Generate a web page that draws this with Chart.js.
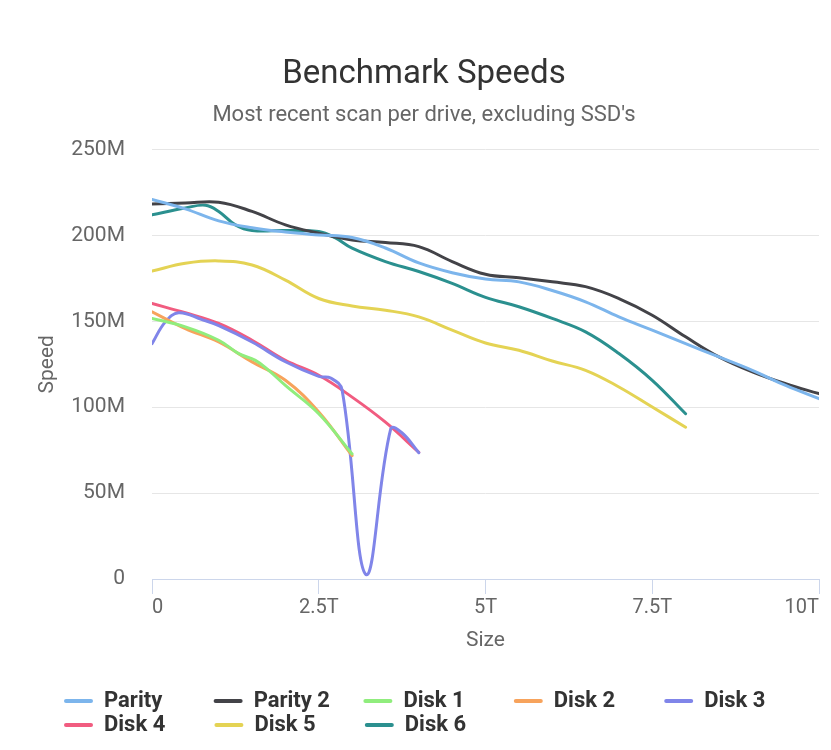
<!DOCTYPE html>
<html>
<head>
<meta charset="utf-8">
<script src="https://cdn.jsdelivr.net/npm/chart.js@4/dist/chart.umd.min.js"></script>
<style>
  html, body { margin: 0; padding: 0; background: #ffffff; }
  #wrap { width: 831px; height: 750px; position: relative; }
</style>
</head>
<body>
<div id="wrap"><canvas id="c"></canvas></div>
<script>
// ---- Data (size in TB, speed in MB/s) ----
const seriesNames = ['Parity', 'Parity 2', 'Disk 1', 'Disk 2', 'Disk 3', 'Disk 4', 'Disk 5', 'Disk 6'];
const seriesColors = ['#7cb5ec', '#434348', '#90ed7d', '#f7a35c', '#8085e9', '#f15c80', '#e4d354', '#2b908f'];

const paritySize   = [0, 0.5, 1, 1.5, 2, 2.5, 3, 3.5, 4, 4.5, 5, 5.5, 6, 6.5, 7, 7.5, 8, 8.5, 9, 9.5, 10];
const paritySpeed  = [221, 215.5, 208.5, 204.5, 202, 200.3, 198.8, 192.7, 184, 178.3, 174.6, 173, 168, 161.4, 152.6, 144.9, 137, 129.3, 121.5, 112.7, 105];

const parity2Size  = [0, 0.5, 1, 1.5, 2, 2.5, 3, 3.5, 4, 4.5, 5, 5.5, 6, 6.5, 7, 7.5, 8, 8.5, 9, 9.5, 10];
const parity2Speed = [218.3, 218.9, 219.4, 214, 206.2, 201.3, 197.4, 195.9, 193.5, 184.8, 177.4, 175.4, 173, 170.2, 163.3, 153.6, 141, 129.3, 120.6, 113.7, 107.9];

const disk1Size    = [0, 0.5, 1, 1.3, 1.55, 1.75, 2, 2.5, 3];
const disk1Speed   = [151.7, 146.8, 139, 131.2, 127.3, 121.5, 112.7, 96.2, 72.8];

const disk2Size    = [0, 0.5, 1, 1.5, 2, 2.5, 3];
const disk2Speed   = [155.6, 145.8, 138, 126.4, 115.7, 97.2, 71.8];

const disk3Size    = [0, 0.2, 0.4, 0.75, 1, 1.5, 2, 2.5, 2.68, 2.85, 3.21, 3.58, 3.75, 4];
const disk3Speed   = [137, 149.7, 155, 151, 147.5, 138, 126.5, 118, 117, 110, 2.5, 87.5, 85, 73.5];

const disk4Size    = [0, 0.5, 1, 1.5, 2, 2.5, 3, 3.5, 4];
const disk4Speed   = [160.4, 155, 148.8, 139, 127.3, 118.6, 105.9, 91.3, 73.8];

const disk5Size    = [0, 0.5, 1, 1.5, 2, 2.5, 3, 3.5, 4, 4.5, 5, 5.5, 6, 6.5, 7, 7.5, 8];
const disk5Speed   = [179.3, 183.8, 185.2, 182.8, 174, 163.3, 159, 156.5, 152.6, 144.9, 137.4, 133.2, 126.9, 121.5, 111.8, 100.1, 88.4];

const disk6Size    = [0, 0.5, 0.8, 1.0, 1.25, 1.5, 2, 2.5, 2.75, 3, 3.5, 4, 4.5, 5, 5.5, 6, 6.5, 7, 7.5, 8];
const disk6Speed   = [212, 216, 217.6, 214, 206.2, 202.9, 202.9, 202.3, 198.6, 192.6, 184.8, 179, 172.1, 164, 158.5, 151.7, 143.9, 131.3, 115.7, 96.2];

const xTickValues  = [0, 2.5, 5, 7.5, 10];
const xTickLabels  = ['0', '2.5T', '5T', '7.5T', '10T'];
const yTickValues  = [0, 50, 100, 150, 200, 250];
const yTickLabels  = ['0', '50M', '100M', '150M', '200M', '250M'];

const allSizes  = [paritySize, parity2Size, disk1Size, disk2Size, disk3Size, disk4Size, disk5Size, disk6Size];
const allSpeeds = [paritySpeed, parity2Speed, disk1Speed, disk2Speed, disk3Speed, disk4Speed, disk5Speed, disk6Speed];

function toPoints(xs, ys) { return xs.map((x, i) => ({ x: x, y: ys[i] })); }

const datasets = seriesNames.map((name, i) => ({
  label: name,
  data: toPoints(allSizes[i], allSpeeds[i]),
  borderColor: seriesColors[i],
  backgroundColor: seriesColors[i],
  borderWidth: 3,
  pointRadius: 0,
  pointHoverRadius: 0,
  tension: 0.4,
  fill: false,
  borderCapStyle: 'round',
  borderJoinStyle: 'round'
}));

const FONT = 'Roboto, "Noto Sans", sans-serif';
const LEGEND_TEXT_W = 109;

// Center title & subtitle over the whole canvas width (like the reference)
const centerTitles = {
  id: 'centerTitles',
  afterLayout(chart) {
    chart.boxes.forEach(b => {
      if (b.position === 'top' && b.options && typeof b.options.text === 'string') {
        b.left = 17;
        b.right = 831;
      }
    });
  }
};

new Chart(document.getElementById('c'), {
  type: 'line',
  data: { datasets: datasets },
  plugins: [centerTitles],
  options: {
    responsive: true,
    maintainAspectRatio: false,
    animation: false,
    layout: { padding: { top: 10, left: 62, right: 12, bottom: 4 } },
    plugins: {
      title: {
        display: true,
        text: 'Benchmark Speeds',
        color: '#333333',
        font: { family: FONT, size: 33, weight: 'normal' },
        padding: { top: 45, bottom: 0 }
      },
      subtitle: {
        display: true,
        text: "Most recent scan per drive, excluding SSD's",
        color: '#666666',
        font: { family: FONT, size: 22, weight: 'normal' },
        padding: { top: 8, bottom: 20.6 }
      },
      legend: {
        position: 'bottom',
        align: 'start',
        labels: {
          color: '#333333',
          font: { family: FONT, size: 22, weight: 'bold' },
          boxWidth: 29,
          boxHeight: 4,
          useBorderRadius: true,
          borderRadius: 2,
          padding: 2,
          generateLabels: function (chart) {
            const items = Chart.defaults.plugins.legend.labels.generateLabels(chart);
            const ctx = chart.ctx;
            ctx.save();
            ctx.font = 'bold 22px ' + FONT;
            let pad = '\u200A';
            if (ctx.measureText(pad).width < 0.5) pad = ' ';
            items.forEach(it => {
              let t = it.text;
              let n = 0;
              while (ctx.measureText(t + pad).width <= LEGEND_TEXT_W && n < 300) { t += pad; n++; }
              it.text = t;
              it.lineWidth = 0;
            });
            ctx.restore();
            return items;
          }
        }
      },
      tooltip: { enabled: false }
    },
    scales: {
      x: {
        type: 'linear',
        min: 0,
        max: 10,
        afterBuildTicks: (scale) => { scale.ticks = xTickValues.map(v => ({ value: v })); },
        ticks: {
          color: '#666666',
          font: { family: FONT, size: 20 },
          padding: 2,
          maxRotation: 0,
          align: 'inner',
          callback: (v) => { const i = xTickValues.indexOf(v); return i >= 0 ? xTickLabels[i] : ''; }
        },
        grid: { drawOnChartArea: false, drawTicks: true, tickLength: 15, color: '#ccd6eb', lineWidth: 1 },
        border: { display: true, color: '#ccd6eb', width: 1 },
        title: {
          display: true,
          text: 'Size',
          color: '#666666',
          font: { family: FONT, size: 21 },
          padding: { top: 6.4, bottom: 34.4 }
        }
      },
      y: {
        min: 0,
        max: 250,
        afterBuildTicks: (scale) => { scale.ticks = yTickValues.map(v => ({ value: v })); },
        afterFit: (scale) => { scale.width = 90; },
        ticks: {
          color: '#666666',
          font: { family: FONT, size: 21 },
          padding: 27,
          callback: (v) => { const i = yTickValues.indexOf(v); return i >= 0 ? yTickLabels[i] : ''; }
        },
        grid: { color: '#e6e6e6', lineWidth: 1, drawTicks: false },
        border: { display: false },
        title: {
          display: true,
          text: 'Speed',
          color: '#666666',
          font: { family: FONT, size: 21 },
          padding: { top: -26.6, bottom: 0 }
        }
      }
    }
  }
});
</script>
</body>
</html>
